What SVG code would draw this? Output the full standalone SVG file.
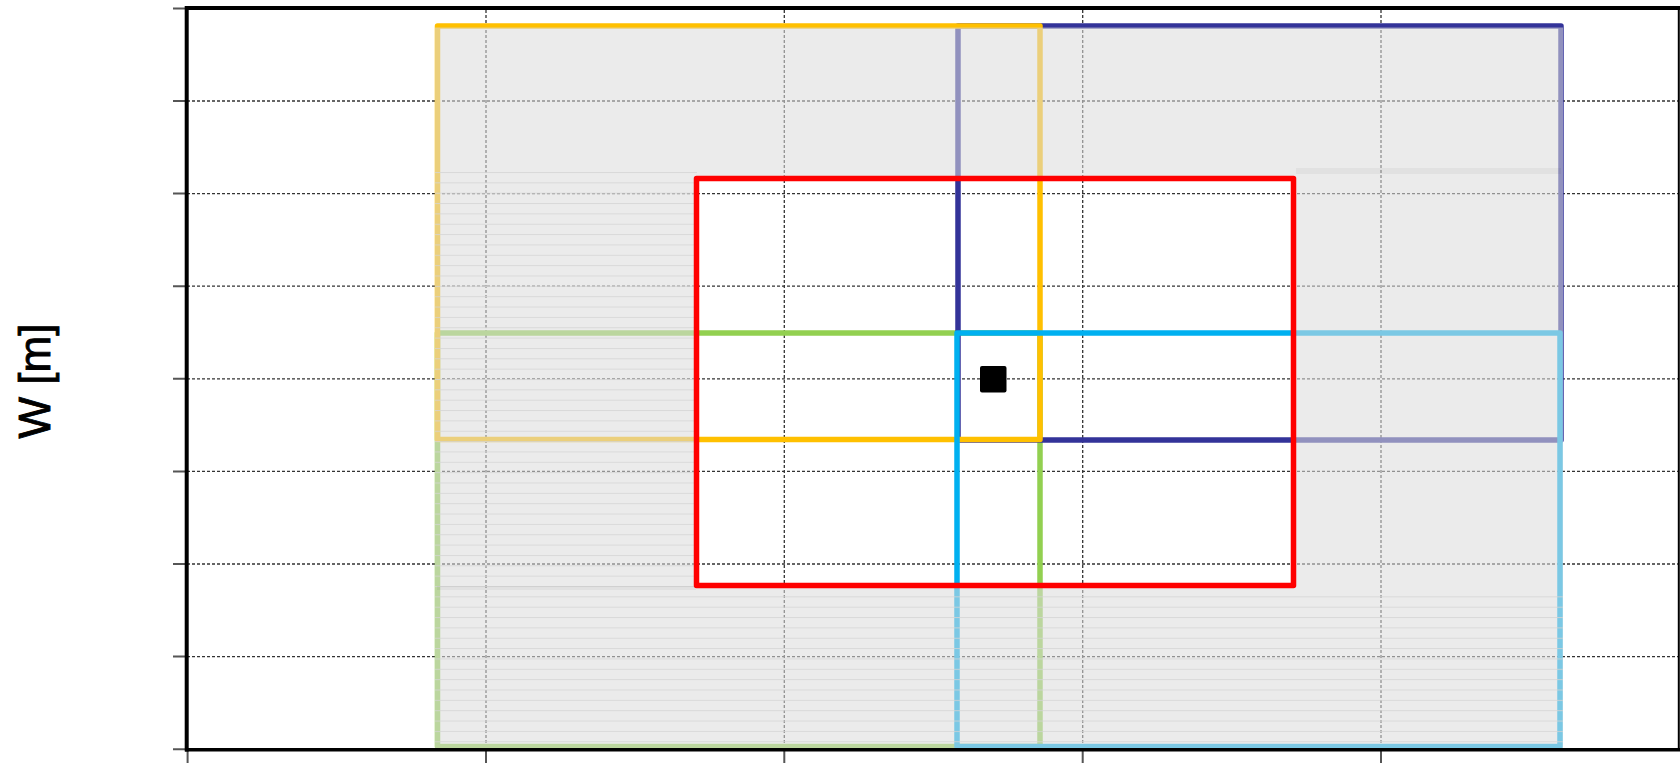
<svg xmlns="http://www.w3.org/2000/svg" width="1680" height="765" viewBox="0 0 1680 765">
<style>
.grid{stroke:#333;stroke-width:1.3;stroke-dasharray:3 2;fill:none}
.tick{stroke:#555;stroke-width:2}
.frame{stroke:#000;fill:none}
.box{fill:none;stroke-width:5.5;stroke-linejoin:round}
.lbl{font-family:"Liberation Sans",Arial,sans-serif;font-size:44px;fill:#000;stroke:#000;stroke-width:0.9}
</style>
<defs>
<pattern id="hatch" patternUnits="userSpaceOnUse" x="0" y="172" width="20" height="10.35">
<rect x="0" y="0" width="20" height="1" fill="#d4d4d4"/>
</pattern>
</defs>
<rect width="1680" height="765" fill="#fff"/>
<g id="grid">
<path class="grid" d="M187,101H1679M187,193.6H1679M187,286.2H1679M187,378.8H1679M187,471.4H1679M187,564H1679M187,656.6H1679"/>
<path class="grid" d="M486,10V748M784.3,10V748M1082.7,10V748M1381,10V748"/>
</g>
<g id="green-box"><rect class="box" x="437.5" y="333" width="602.5" height="413.5" stroke="#92D050"/></g>
<g id="navy-box"><rect class="box" x="958" y="26" width="603" height="414" stroke="#333399"/></g>
<g id="yellow-box"><rect class="box" x="437.5" y="26" width="602.5" height="413.5" stroke="#FFC000"/></g>
<g id="cyan-box"><rect class="box" x="957" y="333" width="603" height="413.5" stroke="#00B0F0"/></g>
<g id="shade">
<path d="M435,27.5H1563V749H435Z M696.5,178.5V585.5H1293.5V178.5Z" fill="#dbdbdb" fill-opacity="0.56" fill-rule="evenodd"/>
<path d="M435,172H697V588H1563V746H435Z" fill="url(#hatch)" opacity="0.8"/>
<rect x="1296" y="168" width="265" height="6" fill="#000" opacity="0.04"/>
<rect x="437" y="586" width="259" height="4" fill="#000" opacity="0.04"/>
</g>
<g id="red-box"><rect class="box" x="696.5" y="178.5" width="597" height="407" stroke="#FF0000"/></g>
<g id="marker"><rect x="980" y="366" width="26.5" height="26.5" rx="2" fill="#000"/></g>
<g id="connectors"></g>
<g id="axes">
<path class="tick" d="M173,8.4H187M173,101H187M173,193.6H187M173,286.2H187M173,378.8H187M173,471.4H187M173,564H187M173,656.6H187M173,749.2H187"/>
<path class="tick" d="M187.6,749V763M486,749V763M784.3,749V763M1082.7,749V763M1381,749V763"/>
<path class="frame" stroke-width="4" d="M186.7,8H1680M186.7,6V751.5"/>
<path class="frame" stroke-width="3.5" d="M185,749.7H1680"/>
<path class="frame" stroke-width="2" d="M1678.8,8V751"/>
</g>
<text class="lbl" transform="translate(50,381) rotate(-90)" text-anchor="middle">W [m]</text>
</svg>
